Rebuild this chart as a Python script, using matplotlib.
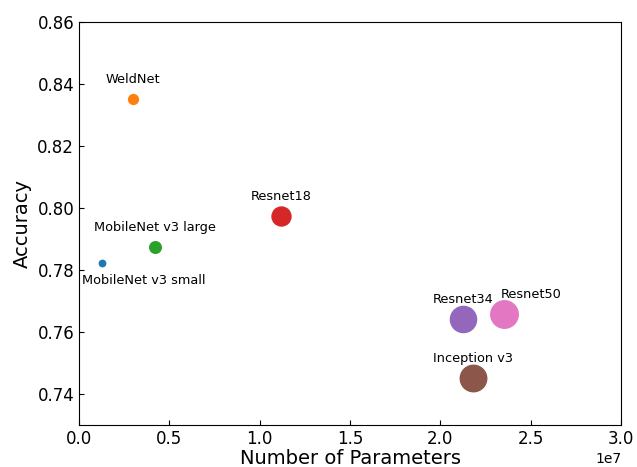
import matplotlib.pyplot as plt

# model name, parameter count, accuracy
models = ['MobileNet v3 small', 'WeldNet', 'MobileNet v3 large', 'Resnet18',
          'Resnet34', 'Inception v3', 'Resnet50']
params = [1.27e6, 2.99e6, 4.2e6, 11.2e6, 21.25e6, 21.8e6, 23.5e6]
accuracy = [0.7823, 0.8352, 0.7874, 0.7974, 0.7643, 0.7452, 0.7658]

# label offsets (points) relative to each marker
offsets = [(30, -13), (0, 14), (0, 14), (0, 14), (0, 14), (0, 14), (20, 14)]

fig, ax = plt.subplots(figsize=(6.37, 4.67), dpi=100)
fig.subplots_adjust(left=0.124, right=0.975, top=0.953, bottom=0.090)

for i, name in enumerate(models):
    ax.scatter(params[i], accuracy[i], s=params[i] / 6e4, color='C%d' % i, zorder=3)
    ax.annotate(name, (params[i], accuracy[i]), xytext=offsets[i],
                textcoords='offset points', ha='center', va='center', fontsize=9.3)

ax.set_xlim(0, 3e7)
ax.set_ylim(0.73, 0.86)
ax.set_xlabel('Number of Parameters', fontsize=14, labelpad=1)
ax.set_ylabel('Accuracy', fontsize=14)
ax.tick_params(direction='in', labelsize=12)

plt.savefig('out.png')
